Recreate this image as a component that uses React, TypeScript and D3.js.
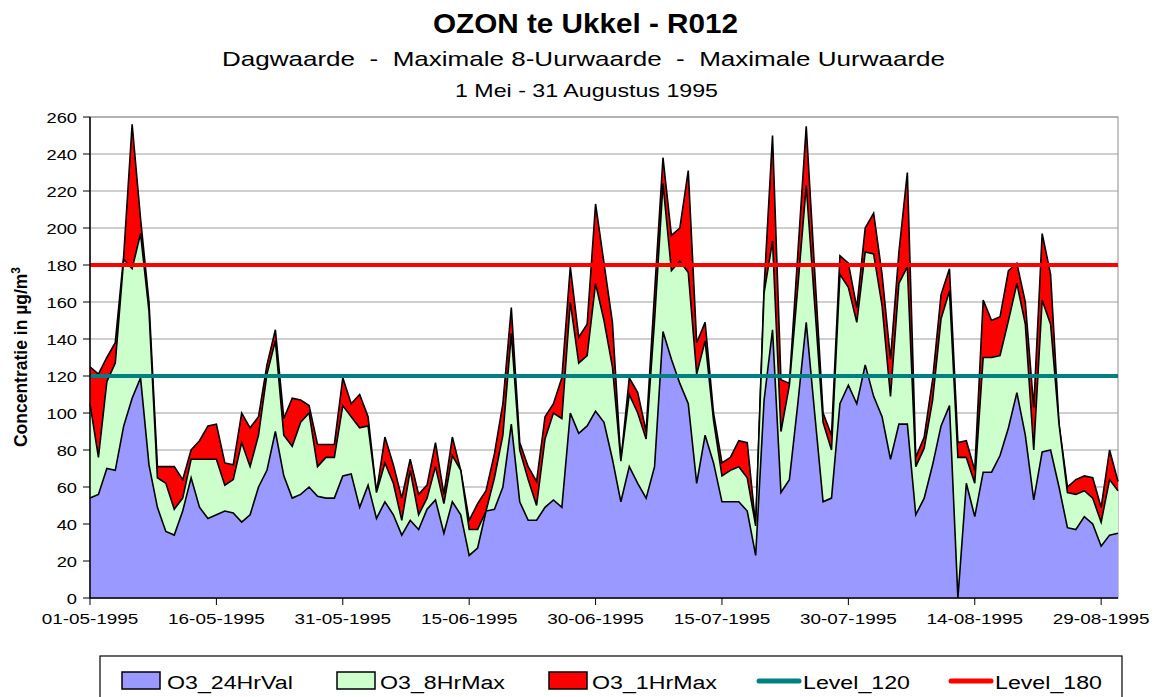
import React from "react";
import * as d3 from "d3";

const startDate = new Date(1995, 4, 1);
const o3_24HrVal = [54,56,70,69,93,108,119,72,49,36,34,47,65,49,43,45,47,46,41,45,
60,69,90,66,54,56,60,55,54,54,66,67,49,61,43,52,45,34,42,37,
48,53,35,52,45,23,27,47,48,60,94,52,42,42,49,53,49,100,89,93,
101,95,75,52,71,62,54,71,144,129,116,105,62,88,73,52,52,52,47,23,
107,145,57,64,105,149,100,52,54,105,115,105,126,109,98,75,94,94,45,54,
72,93,104,0,62,44,68,68,77,92,111,88,53,79,80,60,38,37,44,40,28,34,35];
const o3_8HrMax = [105,76,117,127,183,178,197,155,65,62,48,54,75,75,75,75,61,64,84,71,
88,121,139,88,82,95,100,71,76,76,104,98,92,93,57,73,62,42,69,45,
54,71,51,77,69,37,37,47,65,88,143,80,64,50,86,100,97,160,127,131,
170,150,125,74,110,100,86,150,224,177,182,176,121,139,96,66,69,71,65,39,
165,193,90,115,168,223,159,95,80,175,168,149,187,186,158,109,170,179,71,81,
107,151,166,76,76,62,130,130,131,150,170,148,80,161,148,94,57,56,58,54,41,64,58];
const o3_1HrMax = [125,121,130,138,185,256,205,160,71,71,71,64,80,85,93,94,73,72,100,92,
98,126,145,97,108,107,104,83,83,83,119,105,110,98,57,87,72,54,75,56,
61,84,56,87,69,42,51,58,78,105,157,84,71,63,98,105,119,179,141,148,
213,181,149,74,119,111,90,165,238,196,200,231,138,149,100,73,76,85,84,39,
168,250,118,116,186,255,177,100,88,185,181,157,200,208,175,129,187,230,76,87,
118,164,178,84,85,69,161,150,152,177,181,160,103,197,175,94,60,64,66,65,49,80,63];
const yTicks = [0,20,40,60,80,100,120,140,160,180,200,220,240,260];
const xTickLabels = ["01-05-1995","16-05-1995","31-05-1995","15-06-1995","30-06-1995","15-07-1995","30-07-1995","14-08-1995","29-08-1995"];
const level120 = 120;
const level180 = 180;
const legendLabels = ["O3_24HrVal", "O3_8HrMax", "O3_1HrMax", "Level_120", "Level_180"];

const FONT = "'Liberation Sans', Arial, sans-serif";
const SX = 1.22;

function ST(props: { x: number; y: number; size: number; anchor?: string; bold?: boolean; children: any }) {
  return (
    <text
      transform={`translate(${props.x},${props.y}) scale(${SX},1)`}
      fontSize={props.size}
      textAnchor={props.anchor || "start"}
      fontWeight={props.bold ? "bold" : "normal"}
    >
      {props.children}
    </text>
  );
}

export default function App() {
  const x0 = 90, x1 = 1118, yTop = 117, yBot = 598;
  const days = o3_24HrVal.map((_, i) => d3.timeDay.offset(startDate, i));
  const x = d3.scaleTime().domain([days[0], days[days.length - 1]]).range([x0, x1]);
  const y = d3.scaleLinear().domain([0, 260]).range([yBot, yTop]);
  const area = (vals: number[]) =>
    d3.area<number>().x((_, i) => x(days[i])).y0(y(0)).y1((v) => y(v))(vals) || "";
  const line = (vals: number[]) =>
    d3.line<number>().x((_, i) => x(days[i])).y((v) => y(v))(vals) || "";
  const xTicks = xTickLabels.map((_, k) => d3.timeDay.offset(startDate, k * 15));
  const series = [
    { vals: o3_1HrMax, fill: "#ff0000" },
    { vals: o3_8HrMax, fill: "#ccffcc" },
    { vals: o3_24HrVal, fill: "#9999ff" },
  ];
  const legendItems = [
    { kind: "box", fill: "#9999ff", sx: 122, tx: 167 },
    { kind: "box", fill: "#ccffcc", sx: 337, tx: 380 },
    { kind: "box", fill: "#ff0000", sx: 549, tx: 592 },
    { kind: "line", fill: "#008080", sx: 759, tx: 803 },
    { kind: "line", fill: "#ff0000", sx: 951, tx: 995 },
  ];
  return (
    <svg width={1163} height={697} style={{ position: "absolute", left: 0, top: 0, fontFamily: FONT }}>
      <rect x={0} y={0} width={1163} height={697} fill="#fff" />
      <text x={433} y={33} fontSize={28} fontWeight="bold" textLength={305} lengthAdjust="spacingAndGlyphs">OZON te Ukkel - R012</text>
      <text x={222} y={66} fontSize={21} textLength={723} lengthAdjust="spacingAndGlyphs" style={{ whiteSpace: "pre" }}>Dagwaarde  -  Maximale 8-Uurwaarde  -  Maximale Uurwaarde</text>
      <text x={455} y={96.5} fontSize={18.5} textLength={263} lengthAdjust="spacingAndGlyphs">1 Mei - 31 Augustus 1995</text>
      {yTicks.map((t) => (
        <line key={"g" + t} x1={x0} x2={x1} y1={y(t)} y2={y(t)} stroke="#a0a0a0" strokeWidth={1.2} />
      ))}
      <rect x={x0} y={yTop} width={x1 - x0} height={yBot - yTop} fill="none" stroke="#a0a0a0" strokeWidth={1.2} />
      {series.map((s, i) => (
        <g key={i}>
          <path d={area(s.vals)} fill={s.fill} />
          <path d={line(s.vals)} fill="none" stroke="#000" strokeWidth={1.6} strokeLinejoin="miter" />
        </g>
      ))}
      <line x1={x0} x2={x1} y1={y(level120)} y2={y(level120)} stroke="#008080" strokeWidth={4} />
      <line x1={x0} x2={x1} y1={y(level180)} y2={y(level180)} stroke="#ff0000" strokeWidth={4} />
      <line x1={x0} x2={x0} y1={yTop} y2={yBot} stroke="#000" strokeWidth={1.5} />
      <line x1={x0} x2={x1} y1={yBot} y2={yBot} stroke="#000" strokeWidth={1.5} />
      {yTicks.map((t) => (
        <g key={"t" + t}>
          <line x1={x0 - 7} x2={x0} y1={y(t)} y2={y(t)} stroke="#000" />
          <ST x={77} y={y(t) + 5.5} size={15} anchor="end">{t}</ST>
        </g>
      ))}
      {xTicks.map((d, k) => (
        <g key={"x" + k}>
          <line x1={x(d)} x2={x(d)} y1={yBot} y2={yBot + 7} stroke="#000" />
          <ST x={x(d)} y={yBot + 26} size={15.5} anchor="middle">{xTickLabels[k]}</ST>
        </g>
      ))}
      <text transform={`translate(27,357) rotate(-90)`} textAnchor="middle" fontSize={17.5} fontWeight="bold">
        Concentratie in µg/m<tspan dy={-7} fontSize={12}>3</tspan>
      </text>
      <rect x={100} y={656} width={1022} height={60} fill="#fff" stroke="#000" strokeWidth={1.2} />
      {legendItems.map((it, i) => (
        <g key={"l" + i}>
          {it.kind === "box" ? (
            <rect x={it.sx} y={672} width={38} height={17} fill={it.fill} stroke="#000" strokeWidth={1.5} />
          ) : (
            <line x1={it.sx} x2={it.sx + 40} y1={681} y2={681} stroke={it.fill} strokeWidth={5} strokeLinecap="round" />
          )}
          <ST x={it.tx} y={689} size={19}>{legendLabels[i]}</ST>
        </g>
      ))}
    </svg>
  );
}
